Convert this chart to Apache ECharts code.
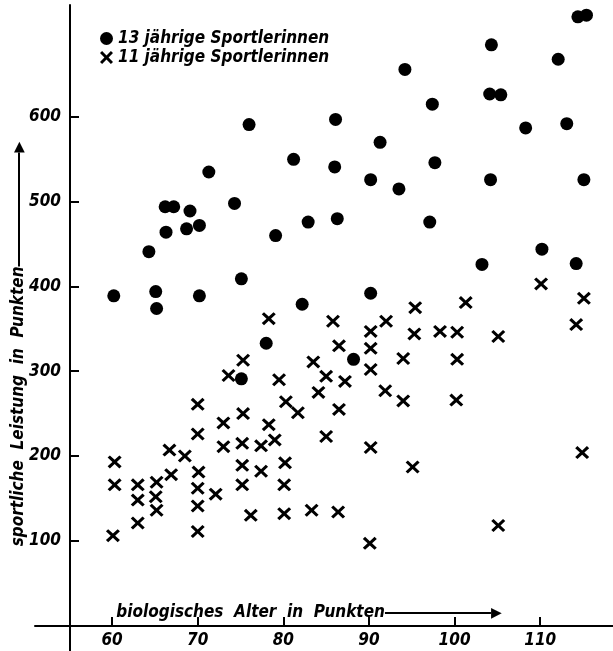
<!DOCTYPE html>
<html>
<head>
<meta charset="utf-8">
<script src="https://cdn.jsdelivr.net/npm/echarts@6/dist/echarts.min.js"></script>
<style>
  html, body { margin: 0; padding: 0; background: #fff; }
  #chart { width: 613px; height: 651px; }
</style>
</head>
<body>
<div id="chart"></div>
<script>
// Tick values on both axes
const xTicks = [60, 70, 80, 90, 100, 110];
const yTicks = [100, 200, 300, 400, 500, 600];

// Series names
const name13 = '13 jährige Sportlerinnen';
const name11 = '11 jährige Sportlerinnen';

// [biologisches Alter, sportliche Leistung] – 13-year-old athletes
const girls13 = [
  [60.2, 389], [65.1, 394], [65.2, 374], [64.3, 441], [66.2, 494], [67.2, 494],
  [69.1, 489], [66.3, 464], [68.7, 468], [70.2, 472], [71.3, 535], [74.3, 498],
  [75.1, 409], [70.2, 389], [76.0, 591], [81.2, 550], [79.1, 460], [82.9, 476],
  [86.0, 541], [86.3, 480], [86.1, 597], [82.2, 379], [78.0, 333], [75.1, 291],
  [90.2, 526], [91.3, 570], [93.5, 515], [94.2, 656], [97.4, 615], [97.7, 546],
  [97.1, 476], [104.3, 685], [104.1, 627], [105.4, 626], [104.2, 526], [108.3, 587],
  [112.1, 668], [113.1, 592], [115.1, 526], [114.4, 718], [115.4, 720], [110.2, 444],
  [103.2, 426], [114.2, 427], [90.2, 392], [88.2, 314]
];

// [biologisches Alter, sportliche Leistung] – 11-year-old athletes
const girls11 = [
  [78.3, 362], [85.8, 359], [86.5, 330], [75.3, 313], [83.5, 311], [73.6, 295],
  [79.5, 290], [85.0, 294], [87.2, 288], [84.1, 275], [80.3, 264], [81.7, 251],
  [86.5, 255], [70.0, 261], [75.3, 250], [73.0, 239], [78.3, 237], [70.0, 226],
  [85.0, 223], [79.0, 219], [73.0, 211], [75.2, 215], [77.4, 212], [66.7, 207],
  [68.5, 200], [60.3, 193], [75.2, 189], [80.2, 192], [66.9, 178], [70.1, 181],
  [77.4, 182], [60.3, 166], [63.0, 166], [65.2, 169], [70.0, 162], [75.2, 166],
  [80.1, 166], [63.0, 148], [65.1, 152], [72.1, 155], [70.0, 141], [65.2, 136],
  [63.0, 121], [76.2, 130], [80.1, 132], [83.3, 136], [86.4, 134], [60.1, 106],
  [70.0, 111],
  [110.1, 403], [115.1, 386], [101.3, 381], [95.4, 375], [114.2, 355], [92.0, 359],
  [90.2, 347], [95.3, 344], [98.3, 347], [100.3, 346], [105.1, 341], [90.2, 327],
  [94.0, 315], [100.3, 314], [90.2, 302], [91.9, 277], [94.0, 265], [100.2, 266],
  [90.2, 210], [95.1, 187], [114.9, 204], [105.1, 118], [90.1, 97]
];

// Filled "×" glyph used for the 11-year-old series
const crossPath = 'path://M0,1.6L1.6,0L5,3.4L8.4,0L10,1.6L6.6,5L10,8.4L8.4,10L5,6.6L1.6,10L0,8.4L3.4,5Z';

const font = "'DejaVu Sans Condensed', 'DejaVu Sans', sans-serif";
const labelStyle = {
  color: '#000', fontFamily: font, fontWeight: 'bold', fontStyle: 'italic', fontSize: 17
};

// Rich-text pieces for the axis titles: words, a solid shaft and an arrowhead
function titleRich(shaftLength) {
  return {
    t: Object.assign({}, labelStyle, { fontSize: 17, lineHeight: 20, verticalAlign: 'middle' }),
    l: { width: shaftLength, height: 2, lineHeight: 20, backgroundColor: '#000', fontSize: 2, verticalAlign: 'middle' },
    h: { color: '#000', fontFamily: 'DejaVu Sans', fontSize: 14, lineHeight: 20, verticalAlign: 'middle' }
  };
}

const chart = echarts.init(document.getElementById('chart'), null, { renderer: 'canvas' });

chart.setOption({
  backgroundColor: '#fff',
  animation: false,
  grid: { left: 35, right: 0, top: 5, bottom: 0, containLabel: false, outerBoundsMode: 'none' },
  legend: {
    orient: 'vertical',
    left: 95, top: 25,
    itemGap: 2,
    itemWidth: 13, itemHeight: 13,
    textStyle: Object.assign({}, labelStyle, { fontSize: 17 }),
    data: [
      { name: name13, icon: 'circle' },
      { name: name11, icon: crossPath }
    ]
  },
  xAxis: {
    type: 'value',
    min: 51, max: 118.5,
    position: 'bottom',
    offset: -25,
    axisLine: { onZero: false, lineStyle: { color: '#000', width: 2 } },
    axisTick: { inside: true, length: 9, customValues: xTicks, lineStyle: { color: '#000', width: 2 } },
    axisLabel: Object.assign({ margin: 6, customValues: xTicks, hideOverlap: false }, labelStyle),
    splitLine: { show: false },
    name: '{t|biologisches  Alter  in  Punkten}{l| }{h|▶}',
    nameLocation: 'middle',
    nameGap: -23,
    nameMoveOverlap: false,
    nameTextStyle: {
      padding: [0, 30, 0, 0],
      rich: titleRich(106)
    }
  },
  yAxis: {
    type: 'value',
    min: -30, max: 732,
    position: 'left',
    offset: -35,
    axisLine: { onZero: false, lineStyle: { color: '#000', width: 2 } },
    axisTick: { inside: true, length: 9, customValues: yTicks, lineStyle: { color: '#000', width: 2 } },
    axisLabel: Object.assign({ margin: 9, customValues: yTicks, hideOverlap: false }, labelStyle),
    splitLine: { show: false },
    name: '{t|sportliche  Leistung  in  Punkten}{l| }{h|▶}',
    nameLocation: 'middle',
    nameRotate: 90,
    nameGap: 41,
    nameMoveOverlap: false,
    nameTextStyle: {
      padding: [0, 32, 0, 0],
      rich: titleRich(114)
    }
  },
  series: [
    {
      name: name13,
      type: 'scatter',
      data: girls13,
      symbol: 'circle',
      symbolSize: 13,
      itemStyle: { color: '#000', opacity: 1 }
    },
    {
      name: name11,
      type: 'scatter',
      data: girls11,
      symbol: crossPath,
      symbolSize: [14, 13],
      itemStyle: { color: '#000', opacity: 1 }
    }
  ]
});
</script>
</body>
</html>
